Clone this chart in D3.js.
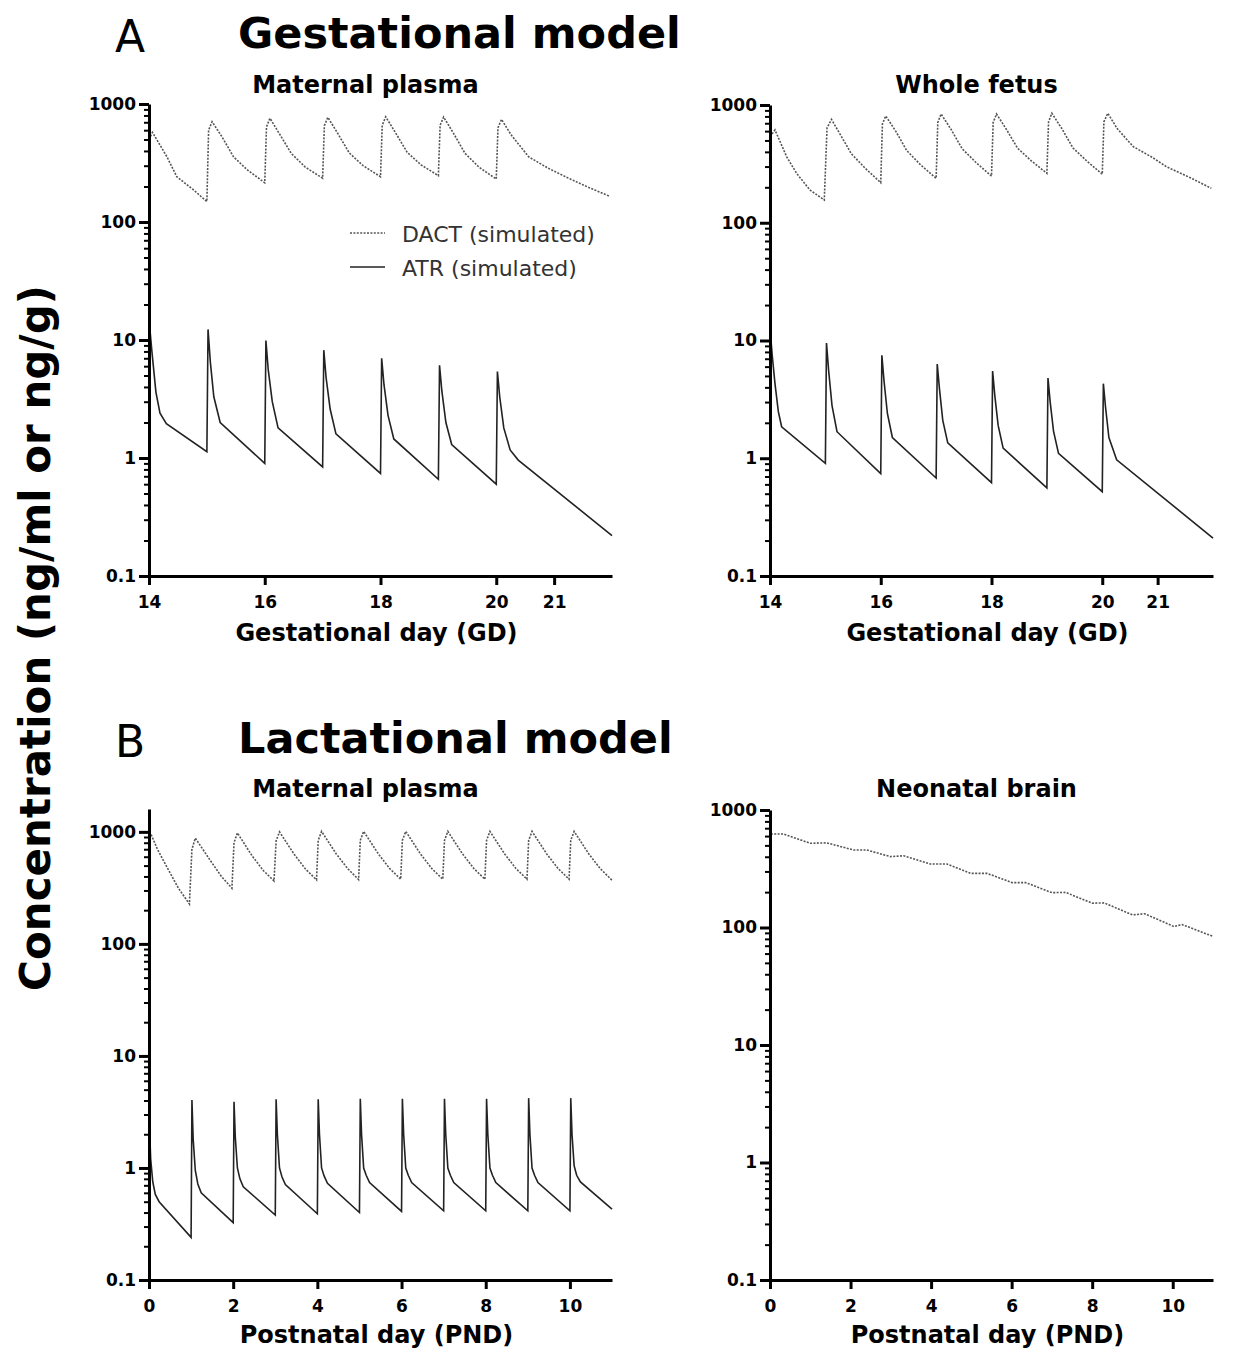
<!DOCTYPE html>
<html lang="en">
<head>
<meta charset="utf-8">
<title>Gestational and lactational model</title>
<script src="https://cdnjs.cloudflare.com/ajax/libs/d3/7.8.5/d3.min.js"></script>
<style>
    body { margin: 0; background: #fff; }
    svg text { font-family: "DejaVu Sans", sans-serif; fill: #000; }
    .axis path, .axis line { stroke: #000; }
    .axis text { font-size: 17px; font-weight: bold; }
    .major path, .major line { stroke-width: 3; }
    .minor line { stroke-width: 2; }
    .minor path { display: none; }
    .dact { fill: none; stroke: #555; stroke-width: 1.6; stroke-dasharray: 2,1.4; }
    .atr { fill: none; stroke: #222; stroke-width: 1.6; }
</style>
</head>
<body>
<svg id="chart" width="1244" height="1354"></svg>

<script>
    // tick labels
    const yTickLabels = [0.1, 1, 10, 100, 1000];
    const gdTickLabels = [14, 16, 18, 20, 21];
    const pndTickLabels = [0, 2, 4, 6, 8, 10];

    // [day, ng/ml]
    const gdPlasmaDact = [
        [14.00, 500], [14.06, 575], [14.31, 357], [14.48, 242], [14.77, 187], [15.00, 149],
        [15.03, 600], [15.09, 708], [15.26, 528], [15.46, 357], [15.70, 276], [16.00, 215],
        [16.03, 640], [16.09, 757], [16.26, 552], [16.46, 380], [16.70, 292], [17.00, 235],
        [17.03, 655], [17.09, 771], [17.26, 565], [17.46, 385], [17.70, 300], [18.00, 242],
        [18.03, 660], [18.09, 780], [18.26, 570], [18.46, 390], [18.70, 305], [19.00, 247],
        [19.03, 660], [19.09, 776], [19.26, 566], [19.46, 382], [19.70, 292], [20.00, 231],
        [20.03, 630], [20.09, 741], [20.26, 545], [20.56, 357], [20.90, 285], [21.25, 235],
        [21.60, 196], [21.95, 166]
    ];
    const gdPlasmaAtr = [
        [14.00, 15.0], [14.05, 8.0], [14.12, 3.6], [14.19, 2.4], [14.30, 1.95], [15.00, 1.13],
        [15.02, 12.3], [15.06, 6.5], [15.12, 3.3], [15.23, 2.0], [16.00, 0.90],
        [16.02, 9.9], [16.06, 5.6], [16.13, 3.0], [16.23, 1.8], [17.00, 0.84],
        [17.02, 8.2], [17.06, 4.8], [17.13, 2.6], [17.23, 1.6], [18.00, 0.74],
        [18.02, 7.0], [18.06, 4.2], [18.13, 2.3], [18.23, 1.45], [19.00, 0.66],
        [19.02, 6.1], [19.06, 3.7], [19.13, 2.0], [19.23, 1.3], [20.00, 0.60],
        [20.02, 5.4], [20.06, 3.3], [20.13, 1.8], [20.24, 1.17], [20.38, 0.96], [22.00, 0.22]
    ];
    const gdFetusDact = [
        [14.00, 538], [14.09, 614], [14.30, 364], [14.48, 263], [14.72, 190], [14.98, 156],
        [15.03, 640], [15.11, 755], [15.27, 560], [15.47, 385], [15.72, 290], [16.00, 219],
        [16.03, 690], [16.09, 807], [16.27, 600], [16.47, 410], [16.72, 310], [17.00, 238],
        [17.03, 710], [17.09, 839], [17.27, 620], [17.47, 425], [17.72, 325], [18.00, 249],
        [18.03, 710], [18.09, 839], [18.27, 620], [18.47, 430], [18.72, 335], [19.00, 263],
        [19.03, 720], [19.09, 851], [19.27, 630], [19.47, 432], [19.72, 335], [20.00, 258],
        [20.03, 720], [20.10, 851], [20.27, 630], [20.56, 443], [20.90, 360], [21.16, 299],
        [21.60, 240], [21.97, 196]
    ];
    const gdFetusAtr = [
        [14.00, 12.7], [14.04, 7.5], [14.09, 4.3], [14.15, 2.5], [14.21, 1.85], [15.00, 0.905],
        [15.02, 9.5], [15.06, 5.5], [15.12, 2.8], [15.21, 1.68], [16.00, 0.74],
        [16.02, 7.5], [16.06, 4.5], [16.12, 2.4], [16.21, 1.5], [17.00, 0.68],
        [17.02, 6.3], [17.06, 3.9], [17.12, 2.1], [17.21, 1.35], [18.00, 0.62],
        [18.02, 5.5], [18.06, 3.4], [18.12, 1.9], [18.21, 1.22], [19.00, 0.56],
        [19.02, 4.8], [19.06, 3.0], [19.12, 1.7], [19.21, 1.1], [20.00, 0.52],
        [20.02, 4.3], [20.06, 2.7], [20.12, 1.5], [20.26, 0.97], [22.00, 0.21]
    ];
    const pndPlasmaDact = [
        [0.00, 1000], [0.05, 950], [0.20, 700], [0.42, 490], [0.70, 314], [0.96, 227],
        [1.02, 700], [1.10, 880], [1.45, 560], [1.72, 400], [1.97, 314],
        [2.02, 800], [2.10, 980], [2.45, 610], [2.72, 450], [2.97, 365],
        [3.02, 830], [3.10, 1000], [3.45, 630], [3.72, 465], [3.98, 373],
        [4.02, 840], [4.10, 1010], [4.45, 635], [4.72, 470], [4.98, 375],
        [5.02, 840], [5.10, 1010], [5.45, 635], [5.72, 470], [5.98, 378],
        [6.02, 840], [6.10, 1010], [6.45, 635], [6.72, 470], [6.98, 378],
        [7.02, 840], [7.10, 1010], [7.45, 635], [7.72, 470], [7.98, 378],
        [8.02, 840], [8.10, 1010], [8.45, 635], [8.72, 470], [8.98, 378],
        [9.02, 840], [9.10, 1010], [9.45, 635], [9.72, 470], [9.98, 378],
        [10.02, 840], [10.10, 1010], [10.45, 635], [10.72, 470], [11.00, 370]
    ];
    const pndPlasmaAtr = [
        [0.00, 3.1], [0.04, 1.2], [0.09, 0.75], [0.15, 0.58], [0.24, 0.50], [1.00, 0.24],
        [1.02, 4.05], [1.05, 1.8], [1.10, 0.95], [1.16, 0.72], [1.24, 0.60], [2.00, 0.325],
        [2.02, 3.9], [2.05, 1.9], [2.10, 1.0], [2.16, 0.80], [2.24, 0.68], [3.00, 0.38],
        [3.02, 4.1], [3.05, 2.0], [3.10, 1.0], [3.16, 0.83], [3.24, 0.71], [4.00, 0.39],
        [4.02, 4.1], [4.05, 2.0], [4.10, 1.0], [4.16, 0.85], [4.24, 0.73], [5.00, 0.40],
        [5.02, 4.15], [5.05, 2.0], [5.10, 1.0], [5.16, 0.86], [5.24, 0.74], [6.00, 0.41],
        [6.02, 4.15], [6.05, 2.0], [6.10, 1.0], [6.16, 0.86], [6.24, 0.74], [7.00, 0.415],
        [7.02, 4.15], [7.05, 2.0], [7.10, 1.0], [7.16, 0.86], [7.24, 0.74], [8.00, 0.415],
        [8.02, 4.15], [8.05, 2.0], [8.10, 1.0], [8.16, 0.86], [8.24, 0.74], [9.00, 0.415],
        [9.02, 4.2], [9.05, 2.0], [9.10, 1.0], [9.16, 0.86], [9.24, 0.74], [10.00, 0.415],
        [10.02, 4.2], [10.05, 2.0], [10.10, 1.05], [10.16, 0.86], [10.25, 0.75], [11.00, 0.43]
    ];
    const pndBrainDact = [
        [0.02, 625], [0.33, 625], [1.00, 521], [1.41, 525], [2.07, 457], [2.40, 457],
        [2.99, 401], [3.32, 408], [3.98, 347], [4.39, 347], [4.98, 289], [5.39, 289],
        [6.01, 241], [6.35, 241], [7.00, 198], [7.34, 199], [8.00, 161], [8.30, 162],
        [9.00, 128], [9.30, 131], [10.03, 102], [10.23, 106], [11.00, 84]
    ];

    const svg = d3.select("#chart");

    const panels = [
        {left: 149, right: 612, bottom: 576, top: 104, xDomain: [14, 22], yDomain: [0.1, 1000],
         xTicks: gdTickLabels, title: "Maternal plasma", xTitle: "Gestational day (GD)",
         titleY: 93, xTitleY: 641, dact: gdPlasmaDact, atr: gdPlasmaAtr},
        {left: 770, right: 1213, bottom: 576, top: 105, xDomain: [14, 22], yDomain: [0.1, 1000],
         xTicks: gdTickLabels, title: "Whole fetus", xTitle: "Gestational day (GD)",
         titleY: 93, xTitleY: 641, dact: gdFetusDact, atr: gdFetusAtr},
        {left: 149, right: 612, bottom: 1280, top: 809, xDomain: [0, 11], yDomain: [0.1, 1600],
         xTicks: pndTickLabels, title: "Maternal plasma", xTitle: "Postnatal day (PND)",
         titleY: 797, xTitleY: 1343, dact: pndPlasmaDact, atr: pndPlasmaAtr},
        {left: 770, right: 1213, bottom: 1280, top: 810, xDomain: [0, 11], yDomain: [0.1, 1000],
         xTicks: pndTickLabels, title: "Neonatal brain", xTitle: "Postnatal day (PND)",
         titleY: 797, xTitleY: 1343, dact: pndBrainDact, atr: null}
    ];

    panels.forEach(drawPanel);

    function drawPanel(p)
    {
        var x = d3.scaleLinear().domain(p.xDomain).range([p.left, p.right]);
        var y = d3.scaleLog().domain(p.yDomain).range([p.bottom, p.top]);

        // 2..9 in every decade
        var minor = [];
        [0.1, 1, 10, 100].forEach(function(dec) {
            for (var k = 2; k <= 9; k++) minor.push(dec * k);
        });

        var line = d3.line()
            .x(function(d) { return x(d[0]); })
            .y(function(d) { return y(d[1]); });

        svg.append("path").datum(p.dact).attr("class", "dact").attr("d", line);
        if (p.atr) svg.append("path").datum(p.atr).attr("class", "atr").attr("d", line);

        svg.append("g")
            .attr("class", "axis minor")
            .attr("transform", "translate(" + p.left + ",0)")
            .call(d3.axisLeft(y).tickValues(minor).tickSize(5).tickFormat(""));

        svg.append("g")
            .attr("class", "axis major")
            .attr("transform", "translate(" + p.left + ",0)")
            .call(d3.axisLeft(y).tickValues(yTickLabels).tickSize(10).tickSizeOuter(0)
                .tickPadding(3).tickFormat(function(d) { return d; }));

        svg.append("g")
            .attr("class", "axis major")
            .attr("transform", "translate(0," + p.bottom + ")")
            .call(d3.axisBottom(x).tickValues(p.xTicks).tickSize(9).tickSizeOuter(0)
                .tickPadding(11).tickFormat(function(d) { return d; }));

        var cx = (p.left + p.right) / 2;
        svg.append("text")
            .attr("x", cx - 15).attr("y", p.titleY)
            .attr("text-anchor", "middle")
            .style("font-size", "24px").style("font-weight", "bold")
            .text(p.title);

        svg.append("text")
            .attr("x", cx - 4).attr("y", p.xTitleY)
            .attr("text-anchor", "middle")
            .style("font-size", "24px").style("font-weight", "bold")
            .text(p.xTitle);
    }

    // section headings
    function heading(letter, label, base)
    {
        svg.append("text").attr("x", 115).attr("y", base + 4)
            .style("font-size", "44px").text(letter);
        svg.append("text").attr("x", 238).attr("y", base)
            .style("font-size", "43px").style("font-weight", "bold").text(label);
    }
    heading("A", "Gestational model", 48);
    heading("B", "Lactational model", 753);

    // y title
    svg.append("text")
        .attr("transform", "translate(50,638) rotate(-90)")
        .attr("text-anchor", "middle")
        .style("font-size", "42px").style("font-weight", "bold")
        .text("Concentration (ng/ml or ng/g)");

    // legend
    var legend = svg.append("g");
    legend.append("line").attr("class", "dact").attr("x1", 350).attr("x2", 385).attr("y1", 233).attr("y2", 233);
    legend.append("line").attr("class", "atr").attr("x1", 350).attr("x2", 385).attr("y1", 267).attr("y2", 267);
    legend.append("text").attr("x", 402).attr("y", 242)
        .style("font-size", "22px").style("fill", "#333").text("DACT (simulated)");
    legend.append("text").attr("x", 402).attr("y", 276)
        .style("font-size", "22px").style("fill", "#333").text("ATR (simulated)");
</script>
</body>
</html>
